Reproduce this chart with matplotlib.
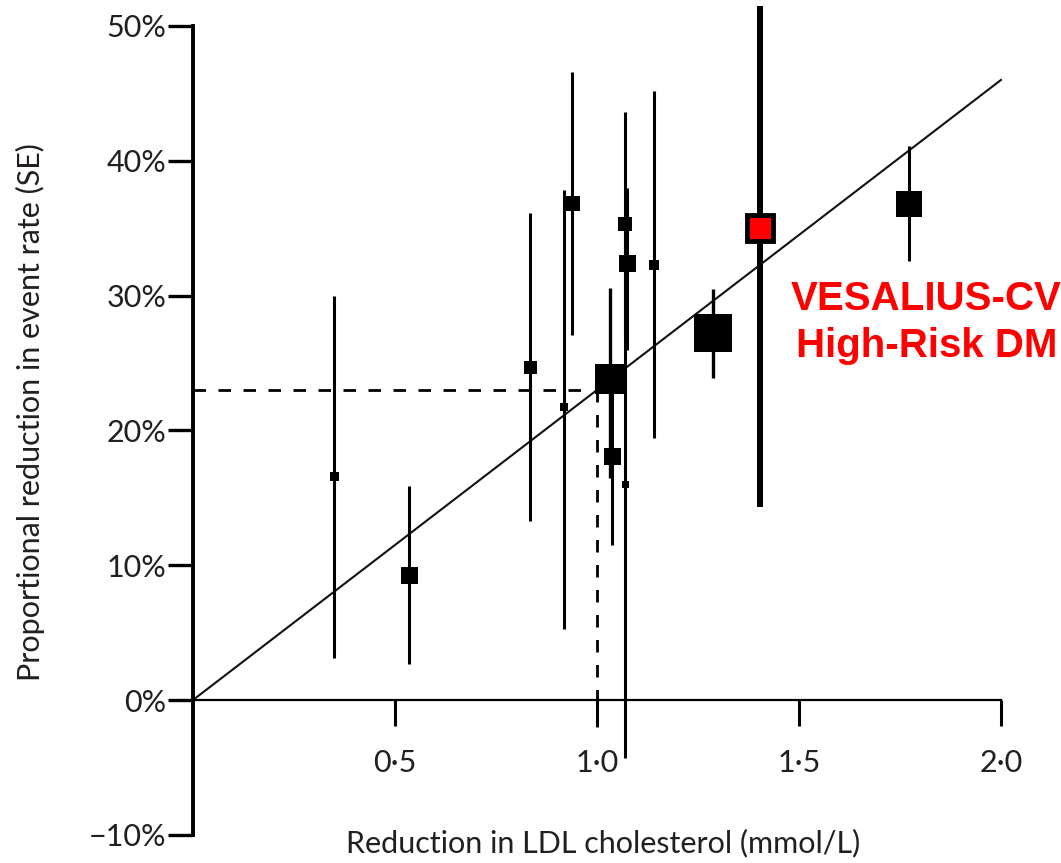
import matplotlib
matplotlib.use('Agg')
import matplotlib.pyplot as plt
import numpy as np

# trial results: LDL reduction (mmol/L), proportional reduction (%) and CI ends
ldl = [0.349, 0.535, 0.834, 0.918, 0.938, 1.070, 1.075, 1.070, 1.141, 1.031, 1.036, 1.288, 1.772]
reduction = [16.6, 9.3, 24.7, 21.7, 36.9, 35.3, 32.4, 16.0, 32.3, 23.8, 18.1, 27.2, 36.8]
ci_low = [3.1, 2.7, 13.3, 5.3, 27.1, 27.0, 26.0, -4.3, 19.4, 16.5, 11.5, 23.9, 32.6]
ci_high = [30.0, 15.9, 36.1, 37.8, 46.6, 43.6, 38.0, 36.0, 45.2, 30.6, 24.0, 30.5, 41.1]

# VESALIUS-CV high-risk diabetes subgroup
ves_ldl = 1.403
ves_red = 35.0
ves_low = 14.3
ves_high = 51.5

slope = 23.0   # % per mmol/L
ref_x = 1.0

yticks = [-10, 0, 10, 20, 30, 40, 50]
ytick_labels = ['\u221210%', '0%', '10%', '20%', '30%', '40%', '50%']
xticks = [0.5, 1.0, 1.5, 2.0]
xtick_labels = ['0\u00b75', '1\u00b70', '1\u00b75', '2\u00b70']

# box sizes in pixels (trial weight)
box_px = [9, 17, 13, 8, 15, 14, 17, 7, 10, 30, 17, 38, 27]

W, H = 1061, 863
DPI = 100
px = 72.0 / DPI
plt.rcParams['font.family'] = ['Lato', 'DejaVu Sans']
txtcol = '#231f20'

fig = plt.figure(figsize=(W / DPI, H / DPI), dpi=DPI)
# axes mapping: x=0 at px 193, 404 px per mmol/L; y=0 at px 700, 13.48 px per %
left_px = 150
ax = fig.add_axes([left_px / W, 0, (W - left_px) / W, 1])
ax.set_xlim((left_px - 193) / 404.0, (W - 193) / 404.0)
ax.set_ylim((700 - H) / 13.48, 700 / 13.48)

# regression line through origin
xr = np.array([0.0, 2.0])
ax.plot(xr, slope * xr, color='#111111', lw=1.5, zorder=2)

# reference dashed lines at 1 mmol/L
ax.plot([0, ref_x - 0.015], [slope * ref_x, slope * ref_x], color='black', lw=2.0,
        linestyle=(0, (4.5, 4.5)), zorder=2)
ax.plot([ref_x, ref_x], [-2, slope * ref_x], color='black', lw=2.0,
        linestyle=(0, (4.5, 4.5)), zorder=2)

for i in range(len(ldl)):
    bw = 2.2
    if box_px[i] >= 30:
        bw = 2.4
    ax.errorbar(ldl[i], reduction[i],
                yerr=[[reduction[i] - ci_low[i]], [ci_high[i] - reduction[i]]],
                fmt='s', color='black', ecolor='black', elinewidth=bw, capsize=0,
                markersize=box_px[i] * px, markeredgewidth=0, zorder=3)

ax.errorbar(ves_ldl, ves_red, yerr=[[ves_red - ves_low], [ves_high - ves_red]],
            fmt='s', color='black', ecolor='black', elinewidth=4.3, capsize=0,
            markersize=26 * px, markerfacecolor='#ff0000', markeredgecolor='black',
            markeredgewidth=3.5, zorder=4)

ax.text(1.815, 28.0, 'VESALIUS-CV\nHigh-Risk DM', color='#ff0000', fontsize=29,
        fontweight='bold', family=['Liberation Sans', 'DejaVu Sans'],
        ha='center', va='center', linespacing=1.3)

# spines
for s in ['top', 'right']:
    ax.spines[s].set_visible(False)
ax.spines['left'].set_position(('data', 0))
ax.spines['bottom'].set_position(('data', 0))
ax.spines['left'].set_bounds(-10, 50)
ax.spines['bottom'].set_bounds(0, 2.0)
ax.spines['left'].set_linewidth(2.8)
ax.spines['bottom'].set_linewidth(1.6)

ax.set_yticks(yticks)
ax.set_yticklabels(ytick_labels)
ax.set_xticks(xticks)
ax.set_xticklabels(xtick_labels)
ax.tick_params(axis='y', direction='out', length=18, width=2.4, pad=1,
               labelsize=22, labelcolor=txtcol)
ax.tick_params(axis='x', direction='out', length=19, width=2.2, pad=16,
               labelsize=22, labelcolor=txtcol)

ax.set_xlabel('Reduction in LDL cholesterol (mmol/L)', fontsize=22, color=txtcol)
ax.xaxis.set_label_coords((603 - left_px) / (W - left_px), (H - 843) / H)
ax.set_ylabel('Proportional reduction in event rate (SE)', fontsize=22, color=txtcol)
ax.yaxis.set_label_coords((30 - left_px) / (W - left_px), (H - 412) / H)
ax.xaxis.label.set_va('center')
ax.yaxis.label.set_va('center')

fig.savefig('out.png', dpi=DPI)
